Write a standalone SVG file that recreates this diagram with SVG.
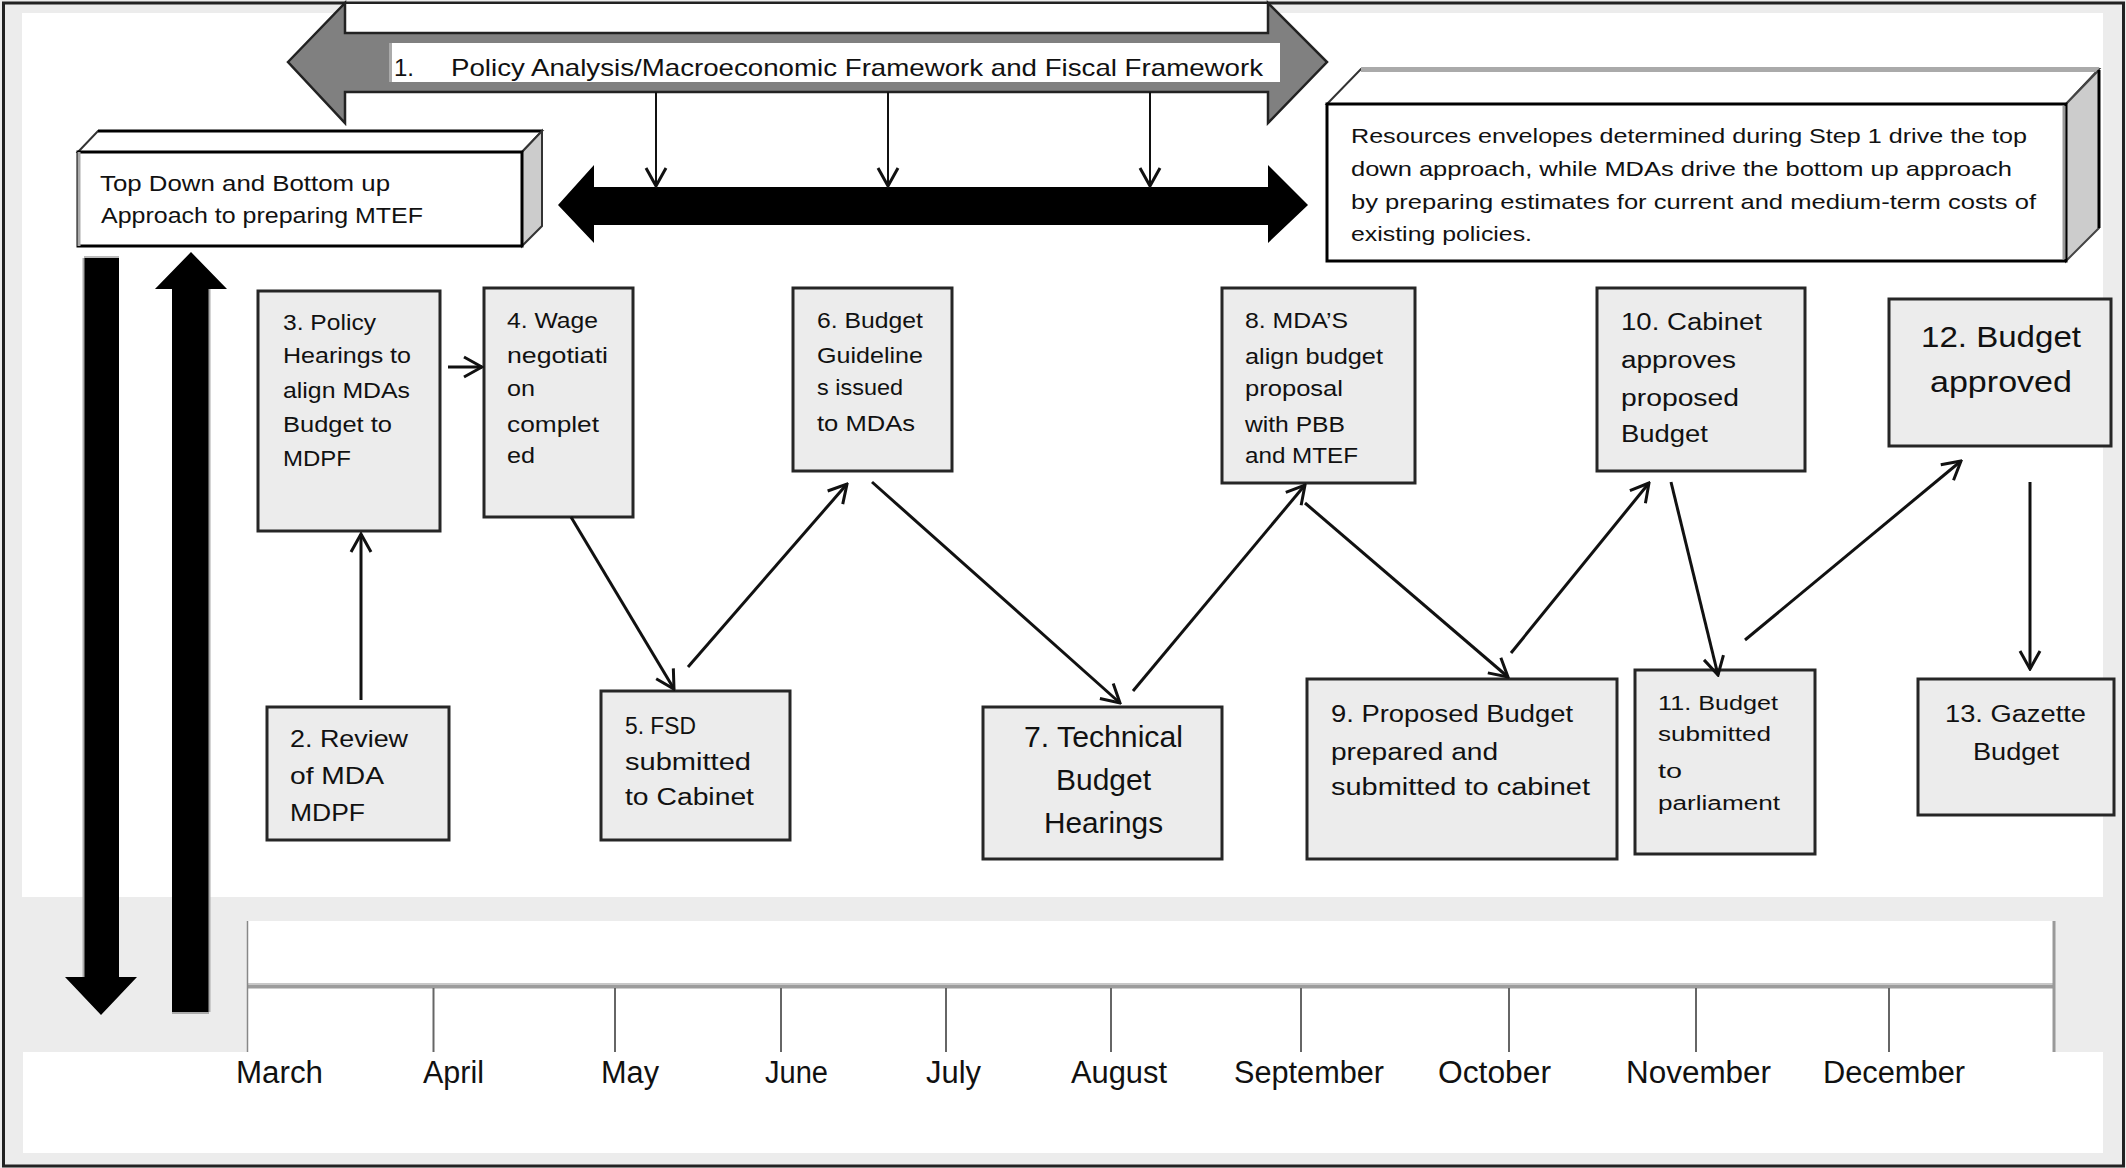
<svg xmlns="http://www.w3.org/2000/svg" width="2126" height="1168" viewBox="0 0 2126 1168">
<defs>
<style>
.t{font-family:"Liberation Sans",Arial,sans-serif;fill:#111}
.s22{font-size:22px}
.s24{font-size:24px}
.s21{font-size:21px}
.s30{font-size:30px}
.s31{font-size:31px}
.box{fill:#ececec;stroke:#262626;stroke-width:3}
.conn{stroke:#111;stroke-width:3;fill:none;marker-end:url(#ah)}
.thin{stroke:#111;stroke-width:2;fill:none;marker-end:url(#ah)}
.tick{stroke:#666;stroke-width:2}
</style>
<marker id="ah" viewBox="0 0 22 24" refX="20" refY="12" markerWidth="22" markerHeight="24" markerUnits="userSpaceOnUse" orient="auto">
<path d="M2,2 L20,12 L2,22" fill="none" stroke="#111" stroke-width="3"/>
</marker>
</defs>

<g id="background">
<rect x="0" y="0" width="2126" height="1168" fill="#ececec"/>
<rect x="3.5" y="3" width="2120" height="1163" fill="none" stroke="#222" stroke-width="3"/>
<rect x="22" y="13" width="2081" height="884" fill="#ffffff"/>
<rect x="23" y="1052" width="2080" height="101" fill="#ffffff"/>
</g>

<g id="timeline">
<rect x="247" y="921" width="1807" height="131" fill="#ffffff"/>
<rect x="247" y="983" width="1807" height="2" fill="#c8c8c8"/>
<rect x="247" y="985" width="1807" height="3.5" fill="#9c9c9c"/>
<line x1="247.5" y1="921" x2="247.5" y2="1052" stroke="#888" stroke-width="1.5"/>
<line x1="2054" y1="921" x2="2054" y2="1052" stroke="#999" stroke-width="3"/>
<line class="tick" x1="433.5" y1="988" x2="433.5" y2="1052"/>
<line class="tick" x1="615" y1="988" x2="615" y2="1052"/>
<line class="tick" x1="781" y1="988" x2="781" y2="1052"/>
<line class="tick" x1="946" y1="988" x2="946" y2="1052"/>
<line class="tick" x1="1111" y1="988" x2="1111" y2="1052"/>
<line class="tick" x1="1301" y1="988" x2="1301" y2="1052"/>
<line class="tick" x1="1509" y1="988" x2="1509" y2="1052"/>
<line class="tick" x1="1696" y1="988" x2="1696" y2="1052"/>
<line class="tick" x1="1889" y1="988" x2="1889" y2="1052"/>
<text class="t s31" x="236" y="1083" textLength="87" lengthAdjust="spacingAndGlyphs">March</text>
<text class="t s31" x="423" y="1083" textLength="61" lengthAdjust="spacingAndGlyphs">April</text>
<text class="t s31" x="601" y="1083" textLength="58" lengthAdjust="spacingAndGlyphs">May</text>
<text class="t s31" x="765" y="1083" textLength="63" lengthAdjust="spacingAndGlyphs">June</text>
<text class="t s31" x="926" y="1083" textLength="55" lengthAdjust="spacingAndGlyphs">July</text>
<text class="t s31" x="1071" y="1083" textLength="96" lengthAdjust="spacingAndGlyphs">August</text>
<text class="t s31" x="1234" y="1083" textLength="150" lengthAdjust="spacingAndGlyphs">September</text>
<text class="t s31" x="1438" y="1083" textLength="113" lengthAdjust="spacingAndGlyphs">October</text>
<text class="t s31" x="1626" y="1083" textLength="145" lengthAdjust="spacingAndGlyphs">November</text>
<text class="t s31" x="1823" y="1083" textLength="142" lengthAdjust="spacingAndGlyphs">December</text>
</g>

<g id="node1-policy-framework">
<rect x="345" y="4" width="923" height="29" fill="#ffffff"/>
<polygon points="288,62 345,3 345,33 1268,33 1268,3 1327,62 1268,123 1268,92 345,92 345,123" fill="#808080" stroke="#222" stroke-width="2.5" stroke-linejoin="miter"/>
<rect x="389" y="43" width="891" height="39" fill="#ffffff"/>
<line x1="390.5" y1="43" x2="390.5" y2="82" stroke="#aaa" stroke-width="3"/>
<text class="t s24" x="394" y="76">1.</text>
<text class="t s24" x="451" y="76" textLength="812" lengthAdjust="spacingAndGlyphs">Policy Analysis/Macroeconomic Framework and Fiscal Framework</text>
</g>

<g id="black-double-arrow">
<polygon points="558,205 594,165 594,187 1268,187 1268,165 1308,205 1268,243 1268,225 594,225 594,243" fill="#000"/>
</g>

<g id="topdown-box">
<polygon points="78,152 98,131 542,131 522,152" fill="#fff" stroke="#333" stroke-width="2"/>
<line x1="98" y1="131" x2="542" y2="131" stroke="#000" stroke-width="3"/>
<polygon points="522,152 542,131 542,226 522,246" fill="#ccc" stroke="#333" stroke-width="2"/>
<rect x="78" y="152" width="444" height="94" fill="#fff" stroke="#000" stroke-width="3"/>
<line x1="79" y1="152" x2="79" y2="246" stroke="#aaa" stroke-width="3"/>
<text class="t s22" x="100" y="191" textLength="290" lengthAdjust="spacingAndGlyphs">Top Down and Bottom up</text>
<text class="t s22" x="101" y="223" textLength="322" lengthAdjust="spacingAndGlyphs">Approach to preparing MTEF</text>
</g>

<g id="resources-box">
<polygon points="1327,104 1361,69 2099,69 2066,104" fill="#fff" stroke="#333" stroke-width="2"/>
<line x1="1361" y1="69.5" x2="2099" y2="69.5" stroke="#aaa" stroke-width="5"/>
<polygon points="2066,104 2099,70 2099,228 2066,261" fill="#ccc" stroke="#444" stroke-width="2"/>
<line x1="2099" y1="70" x2="2099" y2="228" stroke="#000" stroke-width="3"/>
<rect x="1327" y="104" width="739" height="157" fill="#fff" stroke="#000" stroke-width="3"/>
<line x1="2064" y1="106" x2="2064" y2="259" stroke="#999" stroke-width="3"/>
<text class="t s21" x="1351" y="143" textLength="676" lengthAdjust="spacingAndGlyphs">Resources envelopes determined during Step 1 drive the top</text>
<text class="t s21" x="1351" y="176" textLength="661" lengthAdjust="spacingAndGlyphs">down approach, while MDAs drive the bottom up approach</text>
<text class="t s21" x="1351" y="209" textLength="685" lengthAdjust="spacingAndGlyphs">by preparing estimates for current and medium-term costs of</text>
<text class="t s21" x="1351" y="241" textLength="181" lengthAdjust="spacingAndGlyphs">existing policies.</text>
</g>

<g id="topdown-arrows">
<polygon points="84,258 119,258 119,977 137,977 101,1015 65,977 84,977" fill="#000"/>
<line x1="83.5" y1="258" x2="83.5" y2="977" stroke="#aaa" stroke-width="2"/>
<line x1="84" y1="257" x2="119" y2="257" stroke="#bbb" stroke-width="2"/>
<polygon points="191,252 227,289 209,289 209,1012 172,1012 172,289 155,289" fill="#000"/>
<line x1="209.5" y1="289" x2="209.5" y2="1012" stroke="#aaa" stroke-width="2"/>
<line x1="172" y1="1013" x2="209" y2="1013" stroke="#aaa" stroke-width="2"/>
</g>

<g id="node2">
<rect class="box" x="267" y="707" width="182" height="133"/>
<text class="t s24" x="290" y="747" textLength="118" lengthAdjust="spacingAndGlyphs">2. Review</text>
<text class="t s24" x="290" y="784" textLength="94" lengthAdjust="spacingAndGlyphs">of MDA</text>
<text class="t s24" x="290" y="821" textLength="75" lengthAdjust="spacingAndGlyphs">MDPF</text>
</g>

<g id="node3">
<rect class="box" x="258" y="291" width="182" height="240"/>
<text class="t s22" x="283" y="330" textLength="93" lengthAdjust="spacingAndGlyphs">3. Policy</text>
<text class="t s22" x="283" y="363" textLength="128" lengthAdjust="spacingAndGlyphs">Hearings to</text>
<text class="t s22" x="283" y="398" textLength="127" lengthAdjust="spacingAndGlyphs">align MDAs</text>
<text class="t s22" x="283" y="432" textLength="109" lengthAdjust="spacingAndGlyphs">Budget to</text>
<text class="t s22" x="283" y="466" textLength="68" lengthAdjust="spacingAndGlyphs">MDPF</text>
</g>

<g id="node4">
<rect class="box" x="484" y="288" width="149" height="229"/>
<text class="t s22" x="507" y="328" textLength="91" lengthAdjust="spacingAndGlyphs">4. Wage</text>
<text class="t s22" x="507" y="363" textLength="101" lengthAdjust="spacingAndGlyphs">negotiati</text>
<text class="t s22" x="507" y="396" textLength="28" lengthAdjust="spacingAndGlyphs">on</text>
<text class="t s22" x="507" y="432" textLength="92" lengthAdjust="spacingAndGlyphs">complet</text>
<text class="t s22" x="507" y="463" textLength="28" lengthAdjust="spacingAndGlyphs">ed</text>
</g>

<g id="node5">
<rect class="box" x="601" y="691" width="189" height="149"/>
<text class="t s23" style="font-size:23px" x="625" y="734" textLength="71" lengthAdjust="spacingAndGlyphs">5. FSD</text>
<text class="t" style="font-size:23px" x="625" y="770" textLength="126" lengthAdjust="spacingAndGlyphs">submitted</text>
<text class="t" style="font-size:23px" x="625" y="805" textLength="129" lengthAdjust="spacingAndGlyphs">to Cabinet</text>
</g>

<g id="node6">
<rect class="box" x="793" y="288" width="159" height="183"/>
<text class="t s22" x="817" y="328" textLength="106" lengthAdjust="spacingAndGlyphs">6. Budget</text>
<text class="t s22" x="817" y="363" textLength="106" lengthAdjust="spacingAndGlyphs">Guideline</text>
<text class="t s22" x="817" y="395" textLength="86" lengthAdjust="spacingAndGlyphs">s issued</text>
<text class="t s22" x="817" y="431" textLength="98" lengthAdjust="spacingAndGlyphs">to MDAs</text>
</g>

<g id="node7">
<rect class="box" x="983" y="707" width="239" height="152"/>
<text class="t s30" x="1024" y="747" textLength="159" lengthAdjust="spacingAndGlyphs">7. Technical</text>
<text class="t s30" x="1056" y="790" textLength="95" lengthAdjust="spacingAndGlyphs">Budget</text>
<text class="t s30" x="1044" y="833" textLength="119" lengthAdjust="spacingAndGlyphs">Hearings</text>
</g>

<g id="node8">
<rect class="box" x="1222" y="288" width="193" height="195"/>
<text class="t s22" x="1245" y="328" textLength="103" lengthAdjust="spacingAndGlyphs">8. MDA’S</text>
<text class="t s22" x="1245" y="364" textLength="138" lengthAdjust="spacingAndGlyphs">align budget</text>
<text class="t s22" x="1245" y="396" textLength="98" lengthAdjust="spacingAndGlyphs">proposal</text>
<text class="t s22" x="1245" y="432" textLength="100" lengthAdjust="spacingAndGlyphs">with PBB</text>
<text class="t s22" x="1245" y="463" textLength="113" lengthAdjust="spacingAndGlyphs">and MTEF</text>
</g>

<g id="node9">
<rect class="box" x="1307" y="679" width="310" height="180"/>
<text class="t" style="font-size:23px" x="1331" y="722" textLength="242" lengthAdjust="spacingAndGlyphs">9. Proposed Budget</text>
<text class="t" style="font-size:23px" x="1331" y="760" textLength="167" lengthAdjust="spacingAndGlyphs">prepared and</text>
<text class="t" style="font-size:23px" x="1331" y="795" textLength="259" lengthAdjust="spacingAndGlyphs">submitted to cabinet</text>
</g>

<g id="node10">
<rect class="box" x="1597" y="288" width="208" height="183"/>
<text class="t" style="font-size:23px" x="1621" y="330" textLength="141" lengthAdjust="spacingAndGlyphs">10. Cabinet</text>
<text class="t" style="font-size:23px" x="1621" y="368" textLength="115" lengthAdjust="spacingAndGlyphs">approves</text>
<text class="t" style="font-size:23px" x="1621" y="406" textLength="118" lengthAdjust="spacingAndGlyphs">proposed</text>
<text class="t" style="font-size:23px" x="1621" y="442" textLength="87" lengthAdjust="spacingAndGlyphs">Budget</text>
</g>

<g id="node11">
<rect class="box" x="1635" y="670" width="180" height="184"/>
<text class="t" style="font-size:20px" x="1658" y="710" textLength="120" lengthAdjust="spacingAndGlyphs">11. Budget</text>
<text class="t" style="font-size:20px" x="1658" y="741" textLength="113" lengthAdjust="spacingAndGlyphs">submitted</text>
<text class="t" style="font-size:20px" x="1658" y="778" textLength="24" lengthAdjust="spacingAndGlyphs">to</text>
<text class="t" style="font-size:20px" x="1658" y="810" textLength="122" lengthAdjust="spacingAndGlyphs">parliament</text>
</g>

<g id="node12">
<rect class="box" x="1889" y="299" width="222" height="147"/>
<text class="t s30" x="1921" y="347" textLength="160" lengthAdjust="spacingAndGlyphs">12. Budget</text>
<text class="t s30" x="1930" y="392" textLength="142" lengthAdjust="spacingAndGlyphs">approved</text>
</g>

<g id="node13">
<rect class="box" x="1918" y="679" width="196" height="136"/>
<text class="t" style="font-size:23px" x="1945" y="722" textLength="141" lengthAdjust="spacingAndGlyphs">13. Gazette</text>
<text class="t" style="font-size:23px" x="1973" y="760" textLength="86" lengthAdjust="spacingAndGlyphs">Budget</text>
</g>

<g id="connectors">
<line class="thin" x1="656" y1="92" x2="656" y2="186"/>
<line class="thin" x1="888" y1="92" x2="888" y2="186"/>
<line class="thin" x1="1150" y1="92" x2="1150" y2="186"/>
<line class="conn" x1="361" y1="700" x2="361" y2="534"/>
<line class="conn" x1="448" y1="367" x2="482" y2="367"/>
<line class="conn" x1="571" y1="517" x2="674" y2="689"/>
<line class="conn" x1="688" y1="667" x2="847" y2="484"/>
<line class="conn" x1="872" y1="482" x2="1120" y2="703"/>
<line class="conn" x1="1133" y1="691" x2="1305" y2="485"/>
<line class="conn" x1="1305" y1="503" x2="1508" y2="677"/>
<line class="conn" x1="1511" y1="653" x2="1649" y2="483"/>
<line class="conn" x1="1671" y1="482" x2="1718" y2="675"/>
<line class="conn" x1="1745" y1="640" x2="1961" y2="461"/>
<line class="conn" x1="2030" y1="482" x2="2030" y2="669"/>
</g>
</svg>
